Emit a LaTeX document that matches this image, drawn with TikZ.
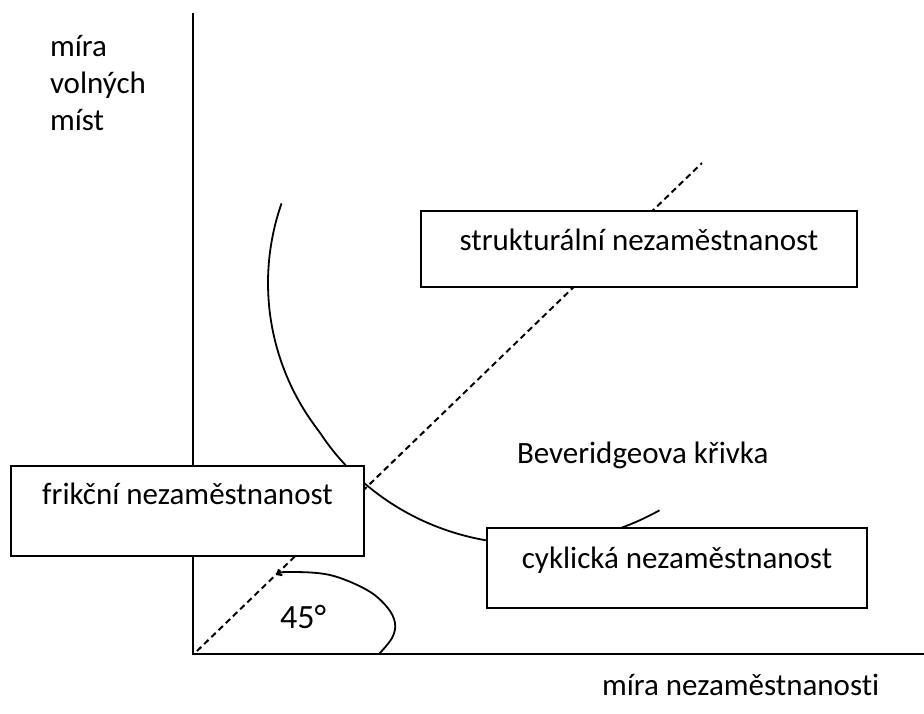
\documentclass[tikz,border=0pt]{standalone}
\usepackage{fontspec}
\setmainfont[Ligatures=NoCommon]{Carlito}
\usetikzlibrary{arrows.meta}
\begin{document}
\begin{tikzpicture}[x=1pt,y=-1pt,
  lbl/.style={font=\fontsize{31}{37}\selectfont, inner sep=0pt, outer sep=0pt},
  box/.style={draw, line width=2.2pt, fill=white, inner xsep=0pt, inner ysep=0pt, outer sep=0pt,
              font=\fontsize{31}{37}\selectfont, anchor=north west},
  axis/.style={line width=2.2pt},
  guide/.style={line width=2pt, dash pattern=on 6pt off 4pt},
  crv/.style={line width=1.8pt}]
\useasboundingbox[fill=white] (0,0) rectangle (924,713);
% axes
\coordinate (O) at (193,654);
\coordinate (Ytop) at (193,13);
\coordinate (Xend) at (924,654);
\draw[axis] (Ytop) -- (O) -- (Xend);
% 45 degree guide
\coordinate (D0) at (197,651);
\coordinate (D1) at (702,163);
\draw[guide] (D0) -- (D1);
% Beveridge curve
\draw[crv] plot[domain=199.3:56.5, samples=80, variable=\t, smooth]
  ({509+(241+max(0,142-\t)*0.37)*cos(\t)}, {283+(241+max(0,142-\t)*0.37)*sin(\t)});
% 45 degree arc
\draw[crv, {Straight Barb[length=4pt,width=7pt]}-] plot[smooth, tension=0.6] coordinates {(276,575) (290,572) (330,575) (367,590) (387,607) (395,623) (392,638) (379,654)};
\node[font=\fontsize{34}{40}\selectfont, inner sep=0pt, anchor=base west] (deg) at (280,628) {45°};
% boxes
\node[box, minimum width=436pt, text height=39pt, text depth=37pt] (struk) at (421,211) {strukturální nezaměstnanost};
\node[box, minimum width=353pt, text height=38pt, text depth=52pt] (frik) at (11,466) {frikční nezaměstnanost};
\node[box, minimum width=380pt, text height=40pt, text depth=40pt] (cykl) at (487,528) {cyklická nezaměstnanost};
% labels
\node[lbl, anchor=base west] (y1) at (50,56) {míra};
\node[lbl, anchor=base west] (y2) at (50,93) {volných};
\node[lbl, anchor=base west] (y3) at (50,130) {míst};
\node[lbl, anchor=base west] (bev) at (517,463) {Beveridgeova křivka};
\node[lbl, anchor=base west] (xl) at (602,695) {míra nezaměstnanosti};
\end{tikzpicture}
\end{document}
